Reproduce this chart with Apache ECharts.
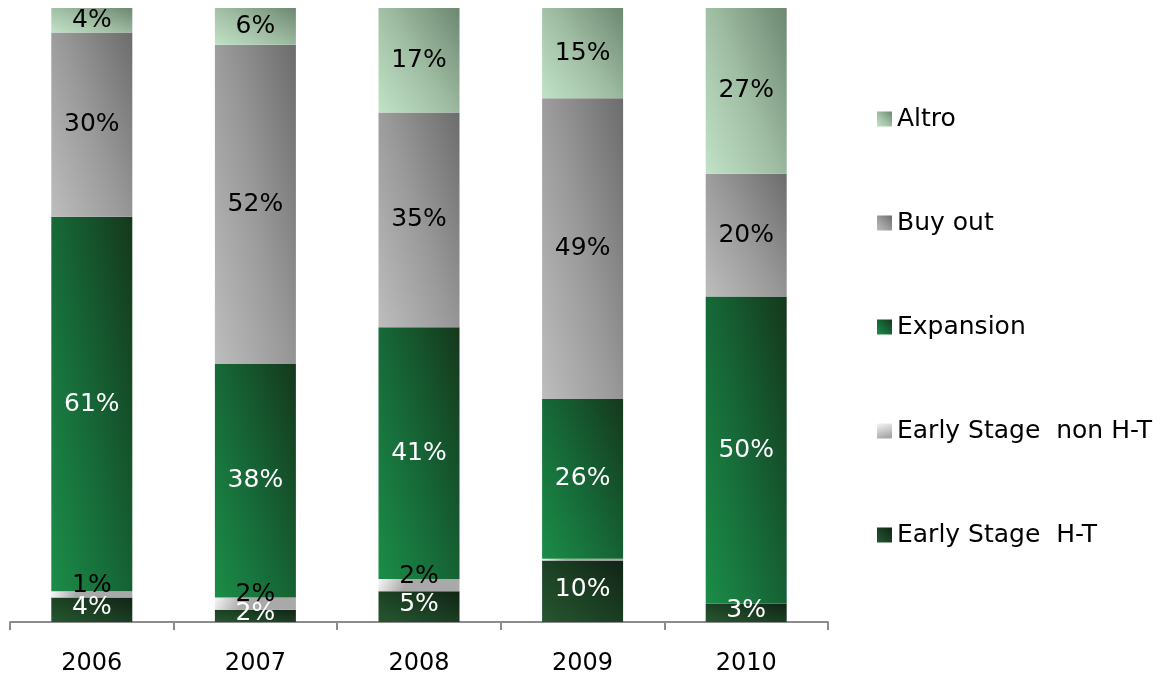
<!DOCTYPE html>
<html>
<head>
<meta charset="utf-8">
<script src="https://cdn.jsdelivr.net/npm/echarts@6/dist/echarts.min.js"></script>
<style>
  html, body { margin: 0; padding: 0; background: #ffffff; }
  #chart { width: 1166px; height: 678px; }
</style>
</head>
<body>
<div id="chart"></div>
<script>
// Investment split by stage, share of yearly total (%)
const years = ['2006', '2007', '2008', '2009', '2010'];
const earlyStageHT    = [4, 2, 5, 10, 3];
const earlyStageNonHT = [1, 2, 2, 0.3, 0];
const expansion       = [61, 38, 41, 26, 50];
const buyOut          = [30, 52, 35, 49, 20];
const altro           = [4, 6, 17, 15, 27];

const seriesNames = ['Early Stage  H-T', 'Early Stage  non H-T', 'Expansion', 'Buy out', 'Altro'];
const legendOrder = ['Altro', 'Buy out', 'Expansion', 'Early Stage  non H-T', 'Early Stage  H-T'];

const FONT = 'DejaVu Sans';

// plot geometry used to shape the fills
const PLOT_H = 614;   // grid height in px
const BAR_W = 81;

const palettes = {
  'Early Stage  H-T': ['#26572f', '#1b3f23', '#112416'],
  'Expansion': ['#1b8d48', '#166536', '#15381c'],
  'Buy out': ['#bdbdbd', '#999999', '#6c6c6c'],
  'Altro': ['#c1e2c6', '#9ebca2', '#6d8771']
};

function stops(p) {
  return [
    { offset: 0, color: p[0] },
    { offset: 0.5, color: p[1] },
    { offset: 1, color: p[2] }
  ];
}

// Shading that runs from the bottom-left corner (light) to the top-right
// corner (dark) of each bar, independent of the bar's height.
function barFill(name, value) {
  if (name === 'Early Stage  non H-T') {
    return new echarts.graphic.LinearGradient(0, 0, 0.3, 1, [
      { offset: 0, color: '#f6f6f6' },
      { offset: 1, color: '#a9a9a9' }
    ]);
  }
  const h = Math.max(value * PLOT_H / 100, 1);
  const cx = 0.55 / BAR_W, cy = 0.45 / h;
  const n = cx * cx + cy * cy;
  const dx = cx / n, dy = cy / n;
  return new echarts.graphic.LinearGradient(0, 1, dx / BAR_W, 1 - dy / h, stops(palettes[name]));
}

function iconFill(name) {
  if (name === 'Early Stage  non H-T') return barFill(name, 1);
  return new echarts.graphic.LinearGradient(0, 1, 1, 0, stops(palettes[name]));
}

const labelColor = {
  'Early Stage  H-T': '#ffffff',
  'Early Stage  non H-T': '#000000',
  'Expansion': '#ffffff',
  'Buy out': '#000000',
  'Altro': '#000000'
};

const labelOffset = {
  'Early Stage  H-T': [0, -2],
  'Early Stage  non H-T': [0, -9],
  'Expansion': [0, 0],
  'Buy out': [0, 0],
  'Altro': [0, 0]
};

const values = [earlyStageHT, earlyStageNonHT, expansion, buyOut, altro];

const series = seriesNames.map((name, i) => ({
  name: name,
  type: 'bar',
  stack: 'total',
  barWidth: BAR_W,
  data: values[i].map(v => ({ value: v, itemStyle: { color: barFill(name, v) } })),
  itemStyle: { color: iconFill(name) },
  label: {
    show: true,
    position: 'inside',
    offset: labelOffset[name],
    color: labelColor[name],
    fontFamily: FONT,
    fontSize: 25,
    formatter: p => (p.value >= 1 ? p.value + '%' : '')
  },
  emphasis: { disabled: true }
}));

const chart = echarts.init(document.getElementById('chart'));
chart.setOption({
  animation: false,
  backgroundColor: '#ffffff',
  grid: { left: 10, right: 338, top: 8, bottom: 56, containLabel: false },
  xAxis: {
    type: 'category',
    data: years,
    axisLine: { lineStyle: { color: '#8c8c8c', width: 2 } },
    axisTick: { show: true, length: 8, lineStyle: { color: '#8c8c8c', width: 2 } },
    axisLabel: { color: '#000000', fontFamily: FONT, fontSize: 24, margin: 30 }
  },
  yAxis: {
    type: 'value',
    min: 0,
    max: 100,
    show: false,
    splitLine: { show: false }
  },
  legend: {
    data: legendOrder,
    orient: 'vertical',
    left: 872,
    top: 99,
    itemWidth: 15,
    itemHeight: 15,
    itemGap: 74,
    icon: 'rect',
    textStyle: { color: '#000000', fontFamily: FONT, fontSize: 25, lineHeight: 30 }
  },
  series: series
});
</script>
</body>
</html>
